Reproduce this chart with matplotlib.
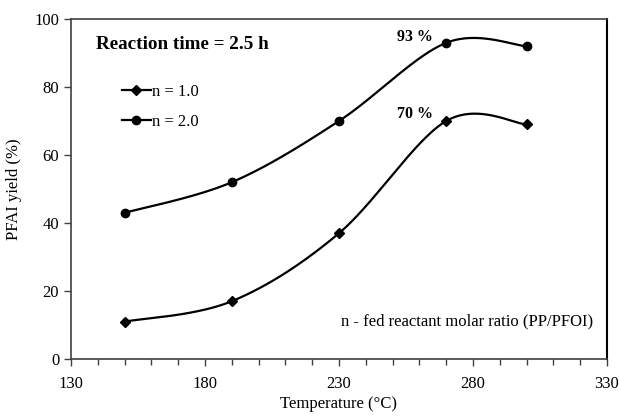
import numpy as np
import matplotlib
matplotlib.use("Agg")
import matplotlib.pyplot as plt
from matplotlib.ticker import FixedLocator, MultipleLocator

temperature = [150, 190, 230, 270, 300]
yield_n1 = [11, 17, 37, 70, 69]
yield_n2 = [43, 52, 70, 93, 92]
series_labels = ["n = 1.0", "n = 2.0"]
x_ticks = [130, 180, 230, 280, 330]
y_ticks = [0, 20, 40, 60, 80, 100]

plt.rcParams['font.family'] = ['Liberation Serif', 'DejaVu Serif']


def smooth(xs, ys, n=60):
    pts = np.column_stack([xs, ys]).astype(float)
    out = []
    for i in range(len(pts) - 1):
        p0 = pts[i - 1] if i > 0 else pts[i]
        p1 = pts[i]
        p2 = pts[i + 1]
        p3 = pts[i + 2] if i + 2 < len(pts) else pts[i + 1]
        c1 = p1 + (p2 - p0) / 6.0
        c2 = p2 - (p3 - p1) / 6.0
        t = np.linspace(0, 1, n)[:, None]
        seg = ((1 - t) ** 3) * p1 + 3 * ((1 - t) ** 2) * t * c1 + 3 * (1 - t) * t ** 2 * c2 + t ** 3 * p2
        if i > 0:
            seg = seg[1:]
        out.append(seg)
    out = np.vstack(out)
    return out[:, 0], out[:, 1]


fig = plt.figure(figsize=(6.2, 4.17), dpi=100)
ax = fig.add_axes([0.1145, 0.139, 0.979 - 0.1145, 0.9544 - 0.139])

for ys, marker, ms, lab in [(yield_n1, 'D', 5, series_labels[0]), (yield_n2, 'o', 6, series_labels[1])]:
    sx, sy = smooth(temperature, ys)
    ax.plot(sx, sy, color='black', lw=1.6)
    ax.plot(temperature, ys, linestyle='none', marker=marker, ms=ms, color='black')
    ax.plot([], [], color='black', lw=1.6, marker=marker, ms=ms, label=lab)

ax.set_xlim(x_ticks[0], x_ticks[-1])
ax.set_ylim(y_ticks[0], y_ticks[-1])
ax.xaxis.set_major_locator(FixedLocator(x_ticks))
ax.xaxis.set_minor_locator(MultipleLocator(10))
ax.yaxis.set_major_locator(FixedLocator(y_ticks))
ax.tick_params(axis='both', which='major', direction='out', length=5, width=1, labelsize=12, color='#404040')
ax.tick_params(axis='x', which='minor', direction='out', length=4, width=1, color='#404040')
ax.tick_params(axis='x', pad=7)
for s in ['left', 'bottom', 'top']:
    ax.spines[s].set_color('#404040')
    ax.spines[s].set_linewidth(1.2)
ax.spines['right'].set_color('black')
ax.spines['right'].set_linewidth(1.5)

ax.set_xlabel('Temperature (°C)', fontsize=12, labelpad=3)
ax.set_ylabel('PFAI yield (%)', fontsize=12, labelpad=9)

ax.text(139.5, 92.5, 'Reaction time = 2.5 h', fontsize=13.8, fontweight='bold', va='center', ha='left')
ax.text(265, 92.5, '93 %', fontsize=11.5, fontweight='bold', ha='right', va='bottom')
ax.text(265, 69.8, '70 %', fontsize=11.5, fontweight='bold', ha='right', va='bottom')
ax.text(325, 11, 'n - fed reactant molar ratio (PP/PFOI)', fontsize=12, ha='right', va='center')

leg = ax.legend(loc='upper left', bbox_to_anchor=(0.082, 0.828), frameon=False, fontsize=12,
                handlelength=1.75, handletextpad=0.1, labelspacing=0.85, borderaxespad=0)

fig.savefig('out.png', dpi=100)
